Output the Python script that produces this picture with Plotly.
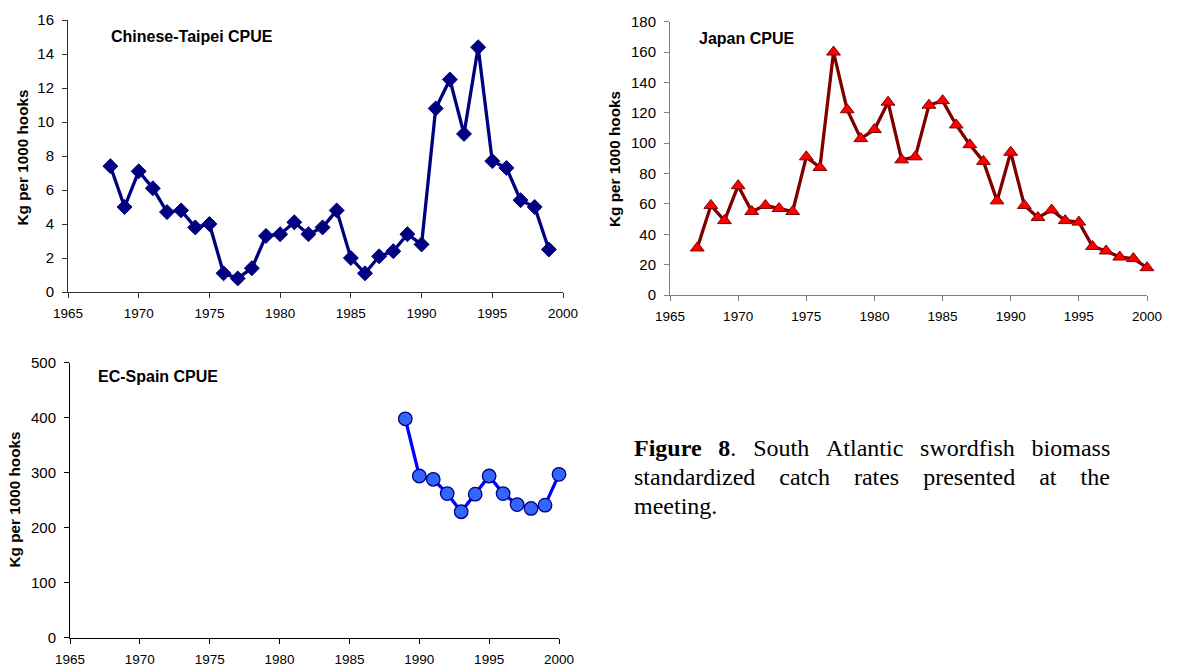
import plotly.graph_objects as go

W, H = 1180, 666

# ---------------- data ----------------
taipei_years = list(range(1968, 2000))
taipei_cpue = [7.4, 5.0, 7.1, 6.1, 4.7, 4.8, 3.8, 4.0, 1.1, 0.8, 1.4, 3.3,
               3.4, 4.1, 3.4, 3.8, 4.8, 2.0, 1.1, 2.1, 2.4, 3.4, 2.8, 10.8,
               12.5, 9.3, 14.4, 7.7, 7.3, 5.4, 5.0, 2.5]

japan_years = list(range(1967, 2001))
japan_cpue = [31, 59, 49, 72, 55, 59, 57, 55, 91, 84, 160, 122, 103, 109,
              127, 89, 91, 125, 128, 112, 99, 88, 62, 94, 59, 51, 56, 49,
              48, 32, 29, 25, 24, 18]

spain_years = list(range(1989, 2001))
spain_cpue = [398, 294, 288, 262, 229, 261, 294, 262, 242, 235, 241, 297]

x_ticks = [1965, 1970, 1975, 1980, 1985, 1990, 1995, 2000]
taipei_yticks = [0, 2, 4, 6, 8, 10, 12, 14, 16]
japan_yticks = [0, 20, 40, 60, 80, 100, 120, 140, 160, 180]
spain_yticks = [0, 100, 200, 300, 400, 500]

caption_line1 = ["<b>Figure</b>", "<b>8</b>.", "South", "Atlantic",
                 "swordfish", "biomass"]
caption_line2 = ["standardized", "catch", "rates", "presented", "at", "the"]
caption_line3 = ["meeting."]

# --------------- helpers ---------------
def px(x):
    return x / W

def py(y):
    return 1 - y / H

SANS = "Liberation Sans, Arial, sans-serif"
SERIF = "Liberation Serif, Times New Roman, serif"

fig = go.Figure()

fig.add_trace(go.Scatter(
    x=taipei_years, y=taipei_cpue, mode="lines+markers",
    line=dict(color="#000080", width=3.3),
    marker=dict(symbol="diamond", size=11.5, color="#000080",
                line=dict(color="#000080", width=1)),
    xaxis="x", yaxis="y", showlegend=False, cliponaxis=False))

fig.add_trace(go.Scatter(
    x=japan_years, y=japan_cpue, mode="lines+markers",
    line=dict(color="#800000", width=3.3),
    marker=dict(symbol="triangle-up", size=12, color="#FF0000",
                line=dict(color="#800000", width=1)),
    xaxis="x2", yaxis="y2", showlegend=False, cliponaxis=False))

fig.add_trace(go.Scatter(
    x=spain_years, y=spain_cpue, mode="lines+markers",
    line=dict(color="#0000FF", width=3.3),
    marker=dict(symbol="circle", size=13.5, color="#3366FF",
                line=dict(color="#000080", width=1.3)),
    xaxis="x3", yaxis="y3", showlegend=False, cliponaxis=False))


def xax(domain, anchor, color):
    return dict(domain=domain, anchor=anchor, range=[1965, 2000],
                tickvals=x_ticks, ticktext=[str(t) for t in x_ticks],
                showgrid=False, zeroline=False, showline=True,
                linecolor=color, linewidth=1, ticks="outside", ticklen=5,
                tickcolor=color, tickwidth=1, automargin=False,
                tickfont=dict(family=SANS, size=13.5, color="#000"),
                ticklabelstandoff=4, fixedrange=True)


def yax(domain, anchor, color, rng, tv):
    return dict(domain=domain, anchor=anchor, range=rng,
                tickvals=tv, ticktext=[str(t) for t in tv],
                showgrid=False, zeroline=False, showline=True,
                linecolor=color, linewidth=1, ticks="outside", ticklen=5,
                tickcolor=color, tickwidth=1, automargin=False,
                tickfont=dict(family=SANS, size=15, color="#000"),
                ticklabelstandoff=5, fixedrange=True)


annotations = []


def ann(text, x, y, size, xanchor="left", yanchor="middle", family=SANS,
        angle=0):
    annotations.append(dict(text=text, x=px(x), y=py(y), xref="paper",
                            yref="paper", xanchor=xanchor, yanchor=yanchor,
                            showarrow=False, textangle=angle,
                            font=dict(family=family, size=size, color="#000")))


# panel titles
ann("<b>Chinese-Taipei CPUE</b>", 109, 36, 16)
ann("<b>Japan CPUE</b>", 697, 39, 16)
ann("<b>EC-Spain CPUE</b>", 96, 377, 16)

# y axis titles
ann("<b>Kg per 1000 hooks</b>", 21.5, 158, 15.3, xanchor="center", angle=-90)
ann("<b>Kg per 1000 hooks</b>", 614, 159, 15.3, xanchor="center", angle=-90)
ann("<b>Kg per 1000 hooks</b>", 14.5, 500, 15.3, xanchor="center", angle=-90)

# caption: justified look via widened (non-breaking) inter-word gaps
NB = "\u00a0"
THIN = "\u2009"
ann((NB * 2 + THIN).join(caption_line1), 632, 448, 24, family=SERIF)
ann((NB * 4).join(caption_line2), 632, 477, 24, family=SERIF)
ann(" ".join(caption_line3), 632, 506, 24, family=SERIF)

fig.update_layout(
    width=W, height=H,
    margin=dict(l=0, r=0, t=0, b=0, autoexpand=False),
    paper_bgcolor="white", plot_bgcolor="white",
    showlegend=False,
    xaxis=xax([px(68), px(563)], "y", "#333333"),
    yaxis=yax([py(292), py(20)], "x", "#333333", [0, 16], taipei_yticks),
    xaxis2=xax([px(670), px(1147)], "y2", "#808080"),
    yaxis2=yax([py(295), py(21.7)], "x2", "#808080", [0, 180], japan_yticks),
    xaxis3=xax([px(70), px(559)], "y3", "#000000"),
    yaxis3=yax([py(637.7), py(362.7)], "x3", "#000000", [0, 500], spain_yticks),
    annotations=annotations,
)

fig.write_html("out.html", config={"displayModeBar": False})
